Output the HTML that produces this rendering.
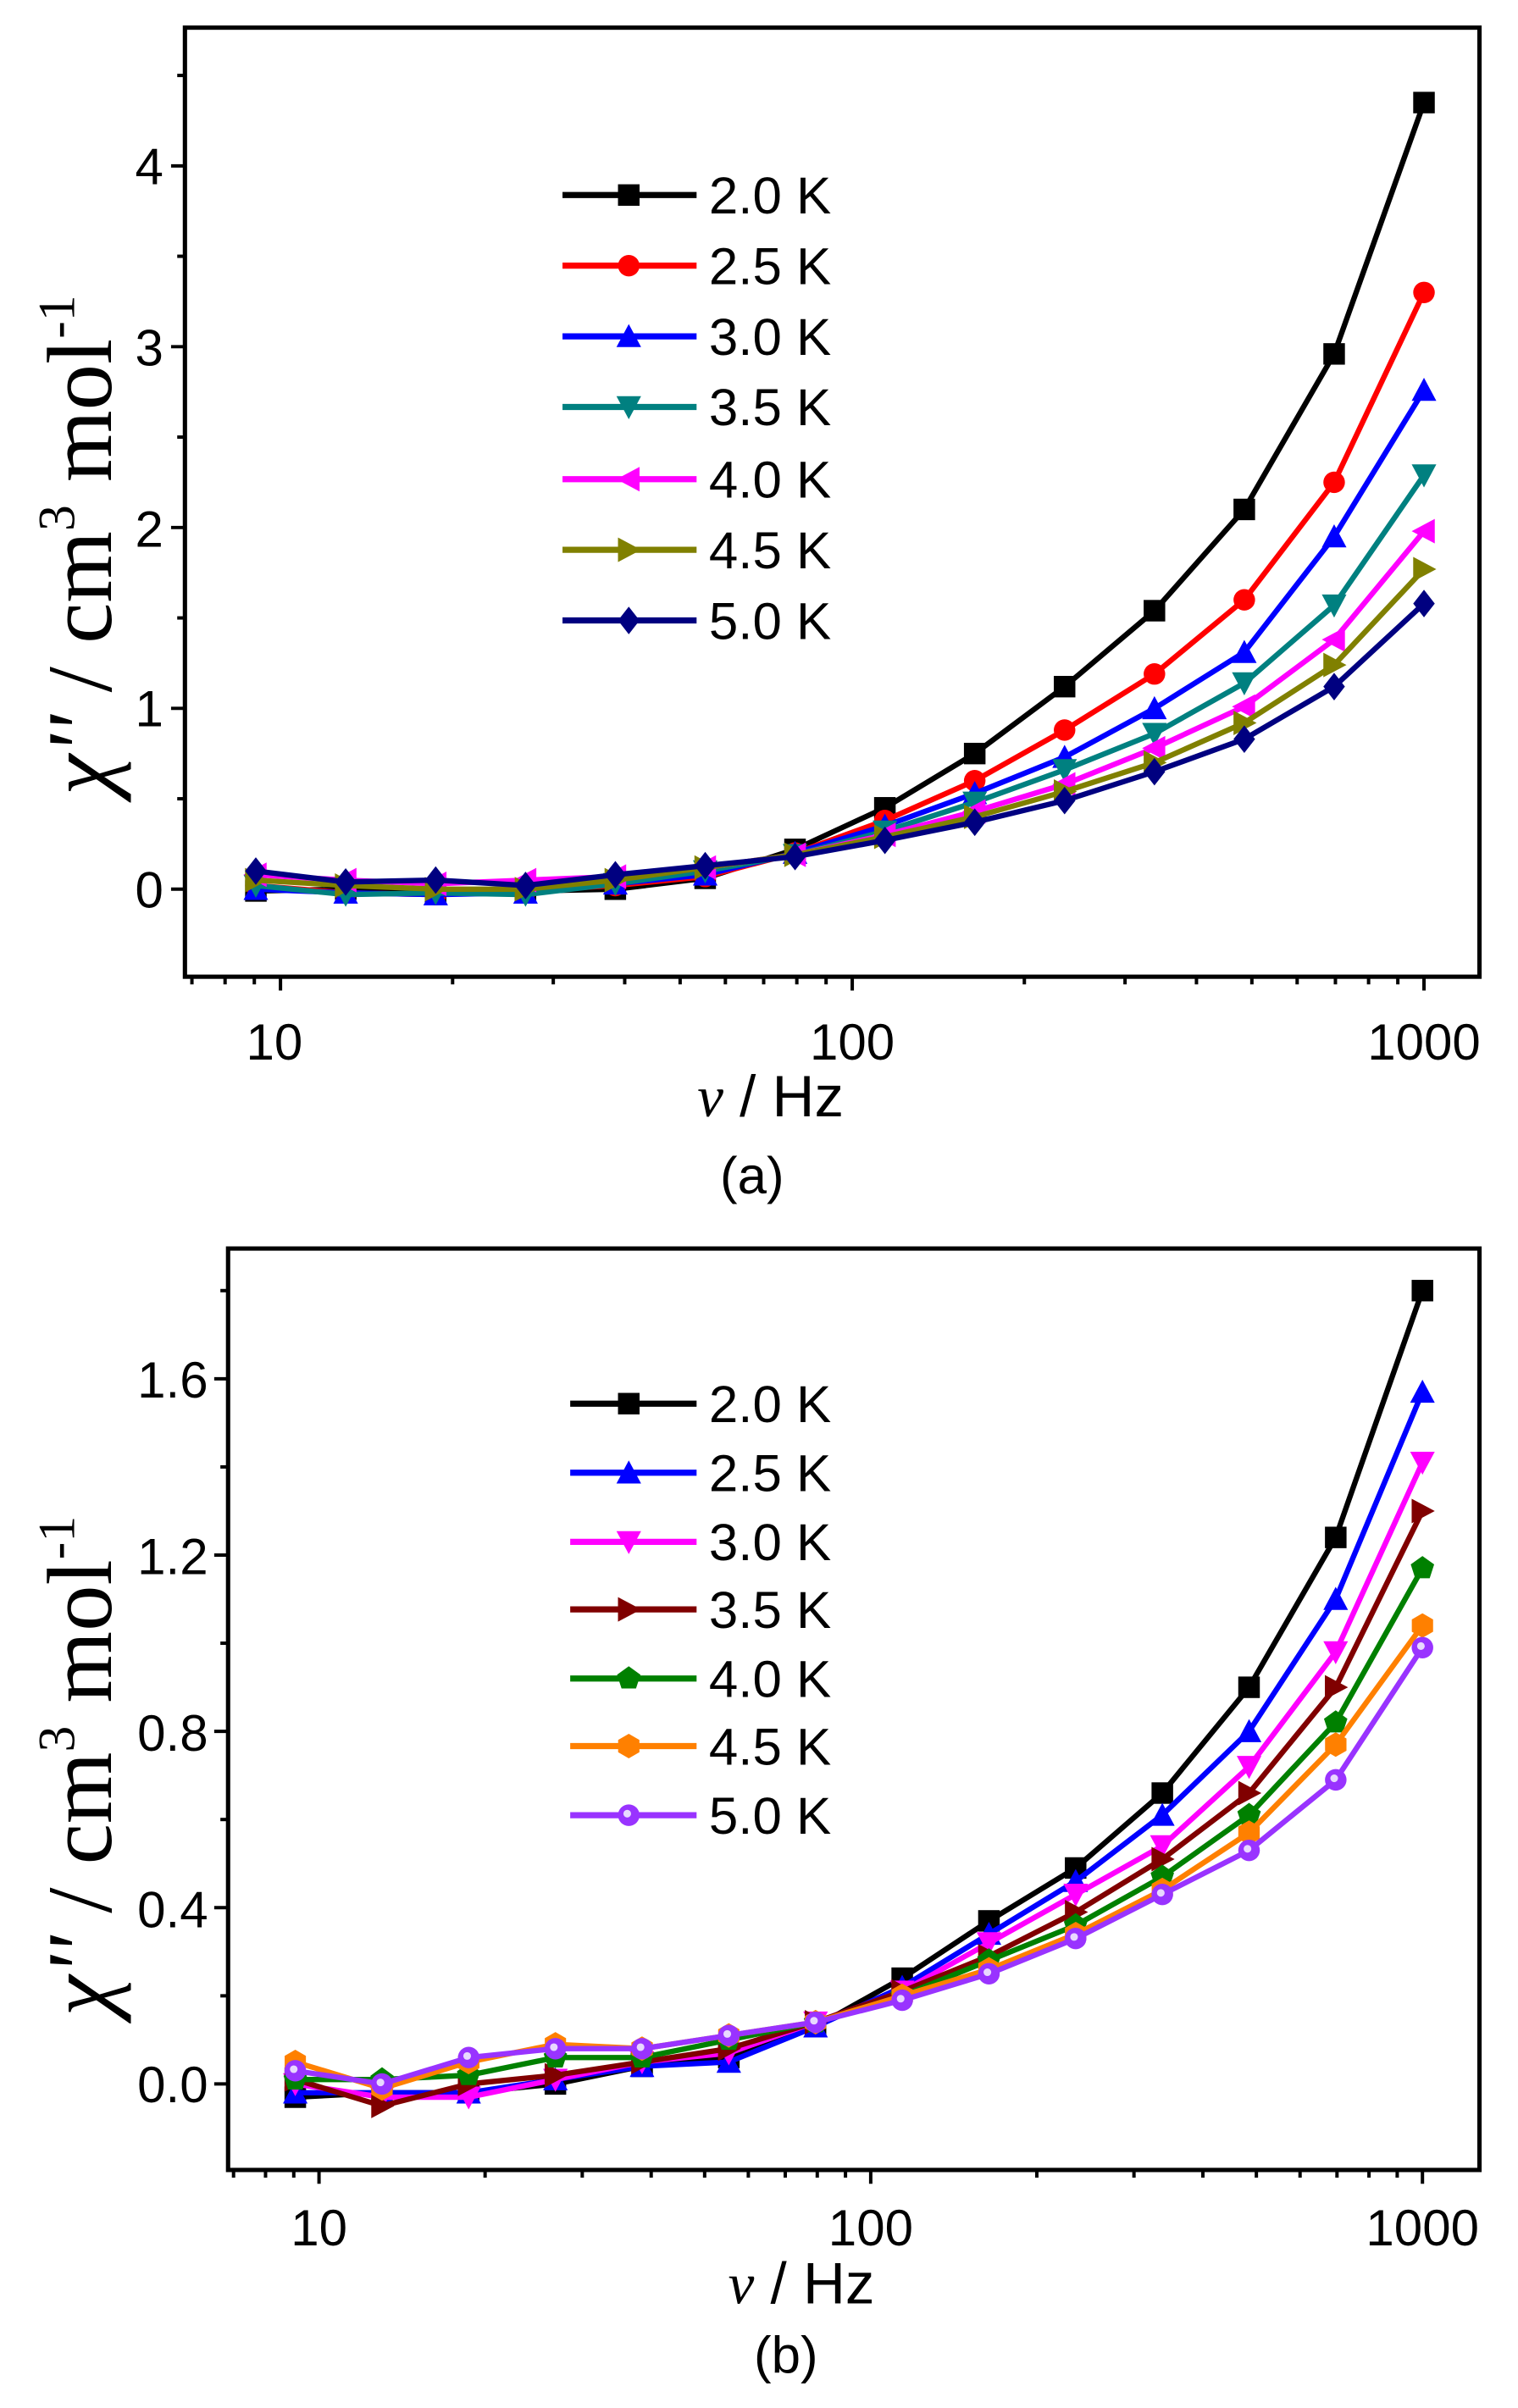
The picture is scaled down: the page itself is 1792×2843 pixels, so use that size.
<!DOCTYPE html>
<html><head><meta charset="utf-8"><style>
html,body{margin:0;padding:0;background:#fff;}
svg{display:block;}
text{font-family:"Liberation Sans",sans-serif;fill:#000;}
</style></head><body>
<svg id="s" width="1792" height="2843" viewBox="0 0 985 1568" preserveAspectRatio="none" xmlns="http://www.w3.org/2000/svg">
<g id="plots"></g>
<g font-size="33">
<text x="178" y="690" text-anchor="middle">10</text>
<text x="553" y="690" text-anchor="middle">100</text>
<text x="924" y="690" text-anchor="middle">1000</text>
<text x="106" y="591" text-anchor="end">0</text>
<text x="106" y="473" text-anchor="end">1</text>
<text x="106" y="356" text-anchor="end">2</text>
<text x="106" y="238" text-anchor="end">3</text>
<text x="106" y="120" text-anchor="end">4</text>
</g>
<text x="500" y="727" font-size="38" text-anchor="middle"><tspan font-family="Liberation Serif" font-style="italic">ν</tspan> / Hz</text>
<text x="488" y="777" font-size="34" text-anchor="middle">(a)</text>
<text transform="translate(72,355) rotate(-90)" font-size="60" text-anchor="middle" style="font-family:'Liberation Serif',serif"><tspan font-style="italic">χ''</tspan> / cm<tspan dy="-24" font-size="34">3</tspan><tspan dy="24"> mol</tspan><tspan dy="-24" font-size="34">-1</tspan></text>
<g font-size="34">
<text x="460" y="139">2.0 K</text>
<text x="460" y="185">2.5 K</text>
<text x="460" y="231">3.0 K</text>
<text x="460" y="277">3.5 K</text>
<text x="460" y="324">4.0 K</text>
<text x="460" y="370">4.5 K</text>
<text x="460" y="416">5.0 K</text>
</g>
<g font-size="33">
<text x="207" y="1462" text-anchor="middle">10</text>
<text x="565" y="1462" text-anchor="middle">100</text>
<text x="923" y="1462" text-anchor="middle">1000</text>
<text x="135" y="1369" text-anchor="end">0.0</text>
<text x="135" y="1255" text-anchor="end">0.4</text>
<text x="135" y="1140" text-anchor="end">0.8</text>
<text x="135" y="1025" text-anchor="end">1.2</text>
<text x="135" y="910" text-anchor="end">1.6</text>
</g>
<text x="520" y="1500" font-size="38" text-anchor="middle"><tspan font-family="Liberation Serif" font-style="italic">ν</tspan> / Hz</text>
<text x="510" y="1545" font-size="34" text-anchor="middle">(b)</text>
<text transform="translate(72,1150) rotate(-90)" font-size="60" text-anchor="middle" style="font-family:'Liberation Serif',serif"><tspan font-style="italic">χ''</tspan> / cm<tspan dy="-24" font-size="34">3</tspan><tspan dy="24"> mol</tspan><tspan dy="-24" font-size="34">-1</tspan></text>
<g font-size="34">
<text x="460" y="926">2.0 K</text>
<text x="460" y="971">2.5 K</text>
<text x="460" y="1016">3.0 K</text>
<text x="460" y="1060">3.5 K</text>
<text x="460" y="1105">4.0 K</text>
<text x="460" y="1149">4.5 K</text>
<text x="460" y="1194">5.0 K</text>
</g>
</svg>
<script>
(function(){
var g=document.getElementById('plots'),h='';
var freqs=[];for(var k=13;k>=0;k--)freqs.push(1000/Math.pow(1.436,k));
function marker(t,x,y,c){var s=7;
 switch(t){
 case 'sq':return '<rect x="'+(x-s)+'" y="'+(y-s)+'" width="'+2*s+'" height="'+2*s+'" fill="'+c+'"/>';
 case 'ci':return '<circle cx="'+x+'" cy="'+y+'" r="'+s+'" fill="'+c+'"/>';
 case 'civ':return '<circle cx="'+x+'" cy="'+y+'" r="'+s+'" fill="'+c+'"/><circle cx="'+(x-1)+'" cy="'+(y-1)+'" r="2.5" fill="#e8d8ff"/>';
 case 'up':return poly([[x,y-s-1],[x+s+1,y+s],[x-s-1,y+s]],c);
 case 'dn':return poly([[x,y+s+1],[x+s+1,y-s],[x-s-1,y-s]],c);
 case 'lf':return poly([[x-s-1,y],[x+s,y-s-1],[x+s,y+s+1]],c);
 case 'rt':return poly([[x+s+1,y],[x-s,y-s-1],[x-s,y+s+1]],c);
 case 'di':return poly([[x,y-s-2],[x+s,y],[x,y+s+2],[x-s,y]],c);
 case 'pe':var p=[];for(var i=0;i<5;i++){var a=-Math.PI/2+i*2*Math.PI/5;p.push([x+8*Math.cos(a),y+8*Math.sin(a)]);}return poly(p,c);
 case 'hx':var p=[];for(var i=0;i<6;i++){var a=i*Math.PI/3+Math.PI/6;p.push([x+8*Math.cos(a),y+8*Math.sin(a)]);}return poly(p,c);
 }}
function poly(p,c){return '<polygon points="'+p.map(function(q){return q[0].toFixed(1)+','+q[1].toFixed(1)}).join(' ')+'" fill="'+c+'"/>';}
function panel(P){
 var X=function(f){return P.x100+P.dec*(Math.log10(f)-2);},Y=function(v){return P.y0-P.uy*v;};
 for(var e=0;e<=3;e++)for(var m=1;m<10;m++){var f=m*Math.pow(10,e);var x=X(f);if(x<P.L+1||x>P.R-1)continue;var len=(m==1)?9:5;h+='<line x1="'+x+'" y1="'+P.B+'" x2="'+x+'" y2="'+(P.B+len)+'" stroke="#000" stroke-width="2.2"/>';}
 for(var v=P.ymin;v<=P.ymax+1e-9;v+=P.minor){var y=Y(v);if(y>P.B-1||y<P.T+1)continue;var maj=Math.abs(v/P.major-Math.round(v/P.major))<1e-6;h+='<line x1="'+P.L+'" y1="'+y+'" x2="'+(P.L-(maj?9:5))+'" y2="'+y+'" stroke="#000" stroke-width="2.2"/>';}
 h+='<rect x="'+P.L+'" y="'+P.T+'" width="'+(P.R-P.L)+'" height="'+(P.B-P.T)+'" fill="none" stroke="#000" stroke-width="2.8"/>';
 P.series.forEach(function(s,i){
  var pts=s.d.map(function(v,j){return [X(freqs[j]),Y(v)]});
  h+='<polyline points="'+pts.map(function(q){return q[0].toFixed(1)+','+q[1].toFixed(1)}).join(' ')+'" fill="none" stroke="'+s.c+'" stroke-width="3.5"/>';
  pts.forEach(function(q){h+=marker(s.m,q[0],q[1],s.c);});
  var ly=P.leg[i];
  h+='<line x1="'+P.lx1+'" y1="'+ly+'" x2="452" y2="'+ly+'" stroke="'+s.c+'" stroke-width="4"/>'+marker(s.m,408,ly,s.c);
 });
}
panel({L:120,R:960,T:18,B:636,x100:553,dec:371,y0:579,uy:117.75,ymin:-0.5,ymax:4.5,minor:0.5,major:1,lx1:365,
 leg:[127,173,219,265,312,358,404],
 series:[
 {c:'#000000',m:'sq',d:[-0.01,0.0,-0.02,-0.01,0.0,0.06,0.22,0.45,0.75,1.12,1.54,2.1,2.96,4.35]},
 {c:'#ff0000',m:'ci',d:[0.02,-0.02,-0.03,-0.01,0.02,0.07,0.2,0.38,0.6,0.88,1.19,1.6,2.25,3.3]},
 {c:'#0000ff',m:'up',d:[0.0,-0.02,-0.03,-0.02,0.03,0.08,0.2,0.35,0.53,0.73,1.0,1.31,1.95,2.76]},
 {c:'#008080',m:'dn',d:[0.02,-0.03,-0.02,-0.03,0.03,0.1,0.19,0.32,0.48,0.66,0.86,1.14,1.57,2.29]},
 {c:'#ff00ff',m:'lf',d:[0.08,0.05,0.03,0.05,0.07,0.12,0.19,0.3,0.43,0.58,0.78,1.01,1.38,1.98]},
 {c:'#808000',m:'rt',d:[0.05,0.02,0.0,0.0,0.05,0.12,0.19,0.29,0.4,0.54,0.7,0.92,1.24,1.77]},
 {c:'#000080',m:'di',d:[0.1,0.04,0.05,0.02,0.08,0.13,0.18,0.27,0.37,0.49,0.65,0.83,1.12,1.58]}]});
panel({L:148,R:960,T:813,B:1413,x100:565,dec:358,y0:1357,uy:287,ymin:-0.2,ymax:1.8,minor:0.2,major:0.4,lx1:370,
 leg:[914,959,1004,1048,1093,1137,1182],
 series:[
 {c:'#000000',m:'sq',d:[-0.03,-0.02,-0.02,0.0,0.04,0.06,0.13,0.24,0.37,0.49,0.66,0.9,1.24,1.8]},
 {c:'#0000ff',m:'up',d:[-0.02,-0.02,-0.02,0.01,0.04,0.05,0.13,0.22,0.34,0.46,0.61,0.8,1.1,1.57]},
 {c:'#ff00ff',m:'dn',d:[0.0,-0.03,-0.03,0.01,0.05,0.07,0.14,0.21,0.32,0.43,0.54,0.72,0.98,1.41]},
 {c:'#800000',m:'rt',d:[0.01,-0.05,0.0,0.02,0.05,0.08,0.14,0.21,0.29,0.39,0.51,0.66,0.9,1.3]},
 {c:'#008000',m:'pe',d:[0.01,0.01,0.02,0.06,0.06,0.1,0.14,0.2,0.28,0.36,0.47,0.61,0.82,1.17]},
 {c:'#ff8000',m:'hx',d:[0.05,-0.01,0.05,0.09,0.08,0.11,0.14,0.2,0.26,0.34,0.44,0.57,0.77,1.04]},
 {c:'#9933ff',m:'civ',d:[0.03,0.0,0.06,0.08,0.08,0.11,0.14,0.19,0.25,0.33,0.43,0.53,0.69,0.99]}]});
g.innerHTML=h;
})();
</script>
</body></html>
